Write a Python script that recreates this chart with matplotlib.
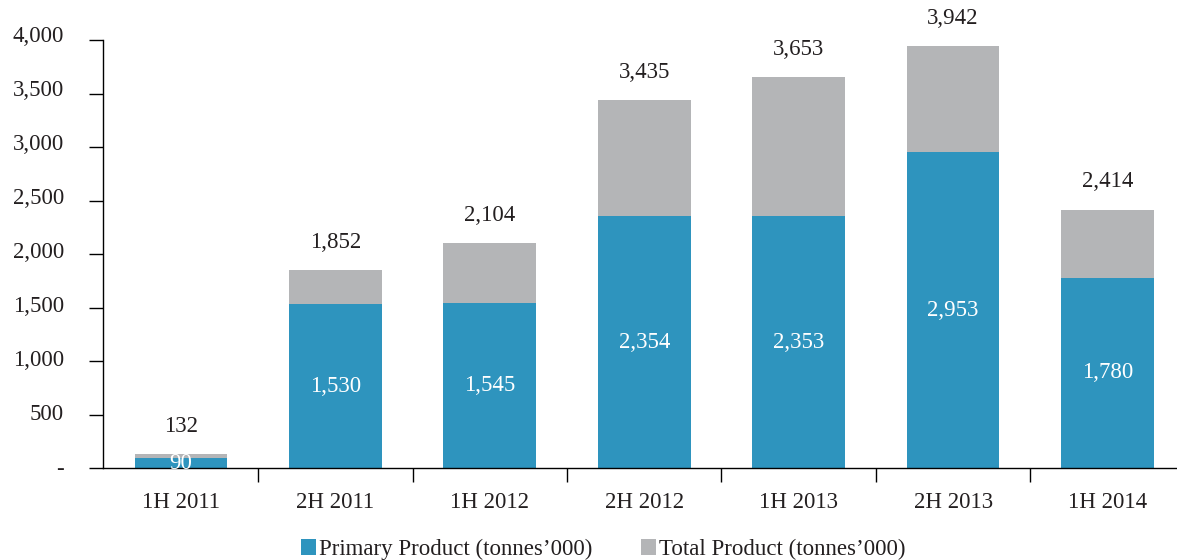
import numpy as np
import matplotlib.pyplot as plt
from matplotlib.ticker import FuncFormatter, FixedLocator
from matplotlib.transforms import ScaledTranslation

# données
periods = ["1H 2011", "2H 2011", "1H 2012", "2H 2012", "1H 2013", "2H 2013", "1H 2014"]
primary = [90, 1530, 1545, 2354, 2353, 2953, 1780]
total = [132, 1852, 2104, 3435, 3653, 3942, 2414]

BLUE = "#2E94BE"
GREY = "#B4B5B7"
TXT = "#231F20"

plt.rcParams["font.family"] = ["Liberation Serif", "DejaVu Serif"]
plt.rcParams["font.size"] = 16.5

fig = plt.figure(figsize=(11.77, 5.6), dpi=100)
ax = fig.add_axes([103 / 1177, 1 - 468 / 560, 1 - 103 / 1177, 428 / 560])

x = np.arange(len(periods))
prim = np.array(primary)
tot = np.array(total)
w = 0.6

ax.bar(x, prim, w, color=BLUE, label="Primary Product (tonnes\u2019000)", zorder=2)
ax.bar(x, tot - prim, w, bottom=prim, color=GREY,
       label="Total Product (tonnes\u2019000)", zorder=2)

for xi, p, t in zip(x, prim, tot):
    ax.text(xi, p / 2, f"{p:,}", ha="center", va="center", color="white", zorder=3)
    ax.annotate(f"{t:,}", (xi, t), xytext=(0, 20), textcoords="offset points",
                ha="center", va="center", color=TXT)

ax.set_xlim(-0.505, 6.45)
ax.set_ylim(0, 4000)

yt = np.arange(0, 4001, 500)
ax.set_yticks(yt)
ax.yaxis.set_major_formatter(FuncFormatter(lambda v, _: "-" if v == 0 else f"{int(v):,}"))
ax.tick_params(axis="y", direction="out", length=10, width=1.0, pad=18, colors="black",
               labelcolor=TXT)
# les libellés de l'axe y remontent un peu par rapport aux graduations
for v, lab in zip(yt, ax.get_yticklabels()):
    dy = (1.5 + 4.5 * v / 4000) / 100
    lab.set_transform(lab.get_transform() + ScaledTranslation(0, dy, fig.dpi_scale_trans))

# graduations aux frontières, libellés au centre des barres
ax.xaxis.set_major_locator(FixedLocator(x[:-1] + 0.5))
ax.xaxis.set_major_formatter(FuncFormatter(lambda v, _: ""))
ax.xaxis.set_minor_locator(FixedLocator(x))
ax.set_xticklabels(periods, minor=True)
ax.tick_params(axis="x", which="major", direction="out", length=10, width=1.0)
ax.tick_params(axis="x", which="minor", length=0, pad=17, labelcolor=TXT)

for s in ["top", "right"]:
    ax.spines[s].set_visible(False)
ax.spines["left"].set_linewidth(1.0)
ax.spines["bottom"].set_linewidth(1.0)

ax.legend(loc="center", bbox_to_anchor=(0.466, -0.19), ncol=2, frameon=False,
          handlelength=0.65, handleheight=0.65, handletextpad=0.15, columnspacing=2.1,
          labelcolor=TXT)

fig.savefig("out.png", dpi=100)
